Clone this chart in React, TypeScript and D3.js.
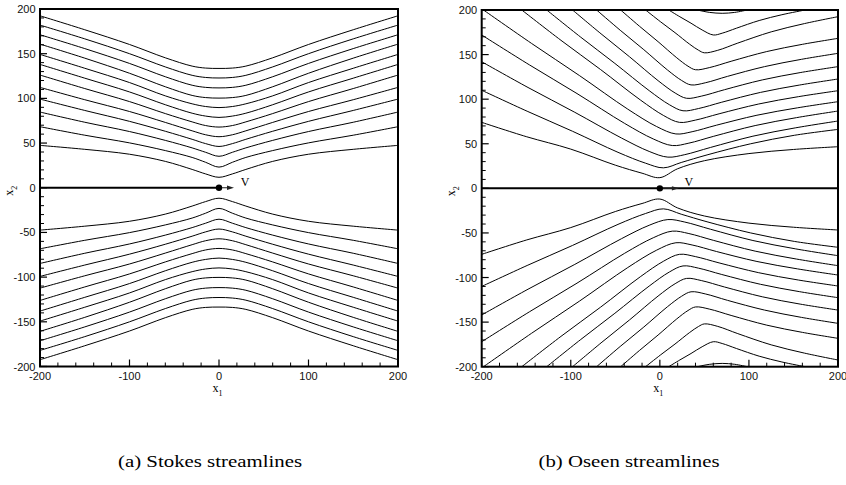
import React from "react";
import * as d3 from "d3";

type Pt = [number, number];

// ---------- axes ----------
const xMajorTicks = [-200, -100, 0, 100, 200];
const yMajorTicks = [-200, -150, -100, -50, 0, 50, 100, 150, 200];
const xMinorStep = 20;
const yMinorStep = 10;

// ---------- Stokes streamlines (upper half, symmetric in x and y) ----------
// |x1| stations
const stokesStations = [0, 15, 30, 60, 100, 150, 200];
// x2 of each streamline at the stations, innermost first
const stokesUpper = [
  [11.7, 15.5, 20.5, 29.5, 37.5, 43.0, 47.4],
  [23.1, 28.5, 33.9, 41.6, 50.2, 58.8, 68.3],
  [35.2, 39.7, 44.6, 53.0, 62.9, 73.3, 84.7],
  [46.2, 49.4, 54.2, 63.2, 74.3, 86.5, 99.2],
  [57.1, 59.3, 63.7, 73.1, 85.3, 98.5, 112.3],
  [67.9, 69.6, 73.7, 83.0, 96.4, 111.0, 126.1],
  [78.7, 80.2, 83.4, 92.9, 107.2, 122.6, 138.0],
  [89.7, 90.9, 93.9, 102.8, 117.7, 133.7, 149.2],
  [100.3, 100.9, 103.3, 113.0, 128.1, 145.0, 160.7],
  [111.7, 112.3, 114.7, 124.2, 139.1, 155.7, 171.2],
  [122.8, 123.4, 125.8, 135.2, 150.0, 166.6, 182.0],
  [133.5, 133.9, 136.1, 145.4, 160.3, 176.8, 192.4],
];

// ---------- Oseen streamlines (upper half, mirrored for lower) ----------
const oseenUpper: Pt[][] = [
  [[-200, 74], [-150, 58], [-100, 44], [-50, 26], [-20, 17], [0, 12], [20, 22], [50, 31], [100, 39], [150, 43.6], [200, 46.7]],
  [[-200, 110], [-149, 86.5], [-98, 64], [-47, 40.4], [-16, 28.2], [4, 23], [24, 29], [53, 37.5], [102, 50], [151, 59.5], [200, 66.1]],
  [[-200, 142], [-148, 113.1], [-95.5, 85.3], [-43, 56.4], [-12, 41.4], [9, 35], [28, 37.8], [57, 45.9], [104.5, 58.5], [152, 67.8], [200, 75.5]],
  [[-200, 172], [-146.5, 138.5], [-93, 106.3], [-39.5, 72.8], [-7.4, 55.4], [14, 48], [32.6, 50.7], [60.5, 58.4], [107, 70.4], [153.5, 79.3], [200, 86.7]],
  [[-198, 200], [-144, 162.5], [-90, 126.3], [-36, 88.8], [-3.6, 69.3], [18, 61], [36.2, 63.5], [63.5, 70.8], [109, 82], [154.5, 90.3], [200, 97.2]],
  [[-155, 200], [-111, 166], [-66.5, 133.2], [-22, 99.2], [4.3, 81.6], [22, 74], [39.8, 76.5], [66.5, 83.6], [111, 94.6], [155.5, 102.8], [200, 109.5]],
  [[-127, 200], [-88.8, 169.5], [-50.5, 140.1], [-12, 109.6], [10.7, 93.8], [26, 87], [43.4, 89.5], [69.5, 96.6], [113, 107.6], [156.5, 115.8], [200, 122.6]],
  [[-98, 200], [-66, 173.3], [-34, 147.5], [-2, 120.8], [17.2, 106.9], [30, 101], [47, 103.5], [72.5, 110.6], [115, 121.6], [157.5, 129.8], [200, 136.5]],
  [[-71, 200], [-44.5, 177.3], [-18, 155.5], [8.5, 132.8], [24.4, 121], [35, 116], [51.5, 118.5], [76, 125.6], [117.5, 136.5], [159, 144.7], [200, 151.4]],
  [[-44, 200], [-23, 181.9], [-2, 164.5], [19, 146.4], [31.6, 137], [40, 133], [56, 135.5], [80, 142.5], [120, 153.4], [160, 161.5], [200, 168.2]],
  [[-16, 200], [0.5, 187], [17, 174.6], [33.5, 161.6], [43.4, 154.9], [50, 152], [65, 154.8], [87.5, 162.9], [125, 175.5], [162.5, 184.8], [200, 192.5]],
  [[10, 200], [22.5, 192.4], [35, 185.2], [47.5, 177.6], [60, 172], [70, 174], [86, 179.6], [111.5, 188.2], [137, 194.7], [163, 200]],
  [[42, 200], [56, 197.3], [70, 196.3], [84, 197.3], [98, 200]],
];

const captions = ["(a) Stokes streamlines", "(b) Oseen streamlines"];
const velocityLabel = "V";

// build full Stokes lines from the stations
function stokesLines(): Pt[][] {
  const out: Pt[][] = [];
  stokesUpper.forEach((vals) => {
    const pts: Pt[] = [];
    for (let i = stokesStations.length - 1; i > 0; i--) pts.push([-stokesStations[i], vals[i]]);
    for (let i = 0; i < stokesStations.length; i++) pts.push([stokesStations[i], vals[i]]);
    out.push(pts);
    out.push(pts.map(([a, b]) => [a, -b] as Pt));
  });
  return out;
}

function oseenLines(): Pt[][] {
  const out: Pt[][] = [];
  oseenUpper.forEach((pts) => {
    out.push(pts);
    out.push(pts.map(([a, b]) => [a, -b] as Pt));
  });
  return out;
}

type Box = { l: number; r: number; t: number; b: number };

const SANS = "'Liberation Sans', Arial, Helvetica, sans-serif";
const SERIF = "'Liberation Serif', 'DejaVu Serif', 'Times New Roman', serif";

function Panel(props: {
  id: string;
  box: Box;
  lines: Pt[][];
  zeroFull: boolean;
  arrowPx: number;
  vPx: number;
  caption: string;
  captionX: number;
  captionLen: number;
}) {
  const { id, box, lines, zeroFull, arrowPx, vPx, caption, captionX, captionLen } = props;
  const x = d3.scaleLinear().domain([-200, 200]).range([box.l, box.r]);
  const y = d3.scaleLinear().domain([-200, 200]).range([box.b, box.t]);
  const gen = d3
    .line<Pt>()
    .x((d) => x(d[0]))
    .y((d) => y(d[1]))
    .curve(d3.curveCatmullRom.alpha(0.5));
  const xMinor = d3.range(-200, 201, xMinorStep).filter((v) => !xMajorTicks.includes(v));
  const yMinor = d3.range(-200, 201, yMinorStep).filter((v) => !yMajorTicks.includes(v));
  const y0 = y(0);
  const x0 = x(0);
  return (
    <g>
      <defs>
        <clipPath id={id + "-clip"}>
          <rect x={box.l} y={box.t} width={box.r - box.l} height={box.b - box.t} />
        </clipPath>
      </defs>
      <g clipPath={`url(#${id}-clip)`}>
        {lines.map((pts, i) => (
          <path key={i} d={gen(pts) || ""} fill="none" stroke="#000" strokeWidth={1} />
        ))}
      </g>
      {/* zero line */}
      <line x1={x(-200)} x2={zeroFull ? x(200) : x0} y1={y0} y2={y0} stroke="#000" strokeWidth={2} />
      {/* arrow */}
      <line x1={x0} x2={x0 + arrowPx - 5} y1={y0} y2={y0} stroke="#222" strokeWidth={1} />
      <polygon
        points={`${x0 + arrowPx},${y0} ${x0 + arrowPx - 7},${y0 - 2.2} ${x0 + arrowPx - 7},${y0 + 2.2}`}
        fill="#222"
      />
      <circle cx={x0} cy={y0} r={3.2} fill="#000" />
      <text x={x0 + vPx} y={y0 - 2} fontFamily={SERIF} fontSize={12} textAnchor="middle" fill="#000">
        {velocityLabel}
      </text>
      {/* ticks */}
      {xMajorTicks.map((v) => (
        <line key={"xM" + v} x1={x(v)} x2={x(v)} y1={box.b} y2={box.b - 7} stroke="#000" strokeWidth={1.2} />
      ))}
      {xMinor.map((v) => (
        <line key={"xm" + v} x1={x(v)} x2={x(v)} y1={box.b} y2={box.b - 4} stroke="#000" strokeWidth={1} />
      ))}
      {yMajorTicks.map((v) => (
        <line key={"yM" + v} x1={box.l} x2={box.l + 7} y1={y(v)} y2={y(v)} stroke="#000" strokeWidth={1.2} />
      ))}
      {yMinor.map((v) => (
        <line key={"ym" + v} x1={box.l} x2={box.l + 4} y1={y(v)} y2={y(v)} stroke="#000" strokeWidth={1} />
      ))}
      {/* frame */}
      <rect
        x={box.l}
        y={box.t}
        width={box.r - box.l}
        height={box.b - box.t}
        fill="none"
        stroke="#000"
        strokeWidth={2}
      />
      {/* tick labels */}
      {xMajorTicks.map((v) => (
        <text key={"xl" + v} x={x(v)} y={box.b + 13.5} fontFamily={SANS} fontSize={11} textAnchor="middle" fill="#111">
          {String(v)}
        </text>
      ))}
      {yMajorTicks.map((v) => (
        <text key={"yl" + v} x={box.l - 4.5} y={y(v) + 4} fontFamily={SANS} fontSize={11} textAnchor="end" fill="#111">
          {String(v)}
        </text>
      ))}
      {/* axis titles */}
      <text x={x0 - 6.5} y={box.b + 25.5} fontFamily={SERIF} fontSize={12} fill="#000">
        x<tspan fontSize={8} dy={4}>1</tspan>
      </text>
      <text
        transform={`translate(${box.l - 27},${y0 + 8}) rotate(-90)`}
        fontFamily={SERIF}
        fontSize={12}
        fill="#000"
      >
        x<tspan fontSize={8} dy={4}>2</tspan>
      </text>
      {/* caption */}
      <text
        x={captionX - captionLen / 2}
        y={467}
        fontFamily={SERIF}
        fontSize={16}
        textLength={captionLen}
        lengthAdjust="spacingAndGlyphs"
        fill="#000"
      >
        {caption}
      </text>
    </g>
  );
}

export default function App() {
  return (
    <svg
      width={846}
      height={485}
      viewBox="0 0 846 485"
      style={{ position: "absolute", left: 0, top: 0, background: "#fff" }}
    >
      <rect x={0} y={0} width={846} height={485} fill="#fff" />
      <Panel
        id="stokes"
        box={{ l: 40, r: 398, t: 9, b: 366.5 }}
        lines={stokesLines()}
        zeroFull={false}
        arrowPx={15}
        vPx={26}
        caption={captions[0]}
        captionX={210}
        captionLen={184}
      />
      <Panel
        id="oseen"
        box={{ l: 481.7, r: 838, t: 10, b: 366.7 }}
        lines={oseenLines()}
        zeroFull={true}
        arrowPx={19}
        vPx={29}
        caption={captions[1]}
        captionX={629}
        captionLen={181}
      />
    </svg>
  );
}
